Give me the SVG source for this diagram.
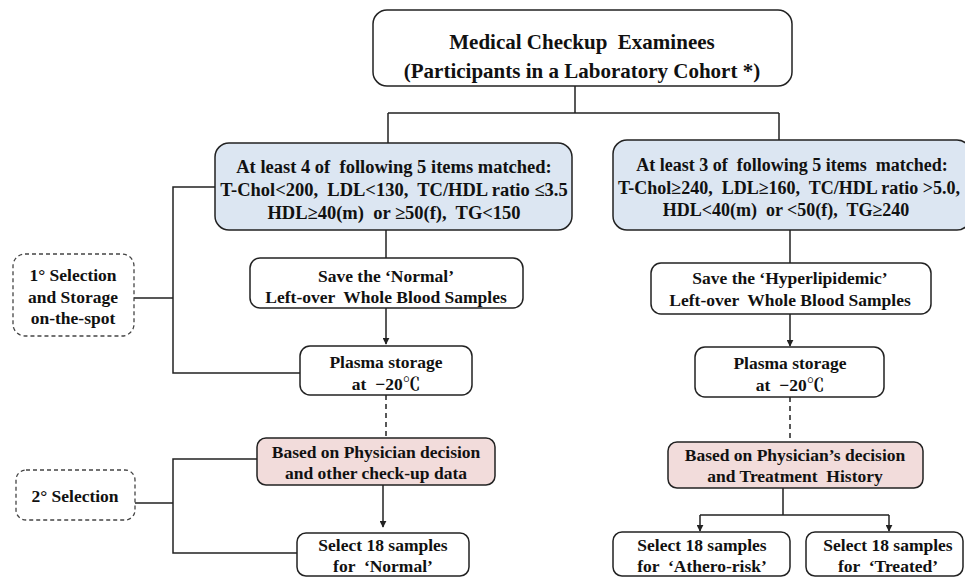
<svg xmlns="http://www.w3.org/2000/svg" width="965" height="578" viewBox="0 0 965 578">
<style>
  text { font-family: "Liberation Serif", "Noto Serif CJK SC", "Noto Sans CJK SC", serif; font-weight: bold; fill: #111; text-anchor: middle; white-space: pre; }
  .t1 { font-size: 21px; }
  .t2 { font-size: 18.5px; }
  .t2r { font-size: 18px; }
  .t3 { font-size: 17.5px; }
  .box { fill: #fff; stroke: #222; stroke-width: 1.5; }
  .blue { fill: #dce6f2; stroke: #222; stroke-width: 1.5; }
  .pink { fill: #f2dcdb; stroke: #222; stroke-width: 1.5; }
  .dash { fill: #fff; stroke: #444; stroke-width: 1.3; stroke-dasharray: 4 3; }
  .ln { fill: none; stroke: #222; stroke-width: 1.5; }
  .dl { fill: none; stroke: #222; stroke-width: 1.5; stroke-dasharray: 5 4; }
</style>
<defs>
  <marker id="ah" viewBox="0 0 10 10" refX="9" refY="5" markerWidth="7" markerHeight="7" markerUnits="userSpaceOnUse" orient="auto">
    <path d="M0,0 L10,5 L0,10 z" fill="#222"/>
  </marker>
</defs>

<g id="connectors">
  <path class="ln" d="M575,86 V113 M388,113 H779 M388,113 V143 M779,113 V140"/>
  <path class="ln" d="M386,230 V258"/>
  <path class="ln" d="M386,308 V344" marker-end="url(#ah)"/>
  <path class="dl" d="M386,395 V438"/>
  <path class="ln" d="M383,485 V527" marker-end="url(#ah)"/>
  <path class="ln" d="M215,187 H173 V373 H300 M134,298 H173"/>
  <path class="ln" d="M257,459 H173 V553 H297 M135,503 H173"/>
  <path class="ln" d="M790,230 V263"/>
  <path class="ln" d="M790,314 V346" marker-end="url(#ah)"/>
  <path class="dl" d="M790,397 V442"/>
  <path class="ln" d="M783,488 V515 M700,515 H889"/>
  <path class="ln" d="M700,515 V531" marker-end="url(#ah)"/>
  <path class="ln" d="M889,515 V531" marker-end="url(#ah)"/>
</g>

<g id="top">
  <rect class="box" x="373" y="10" width="419" height="76" rx="14"/>
  <text class="t1" x="582" y="49">Medical Checkup  Examinees</text>
  <text class="t1" x="582" y="78">(Participants in a Laboratory Cohort *)</text>
</g>

<g id="criteria-normal">
  <rect class="blue" x="215" y="143" width="357" height="87" rx="14"/>
  <text class="t2" x="394" y="173">At least 4 of  following 5 items matched:</text>
  <text class="t2" x="394" y="196">T-Chol&lt;200,  LDL&lt;130,  TC/HDL ratio ≤3.5</text>
  <text class="t2" x="394" y="219">HDL≥40(m)  or ≥50(f),  TG&lt;150</text>
</g>

<g id="criteria-hyper">
  <rect class="blue" x="613" y="140" width="358" height="90" rx="14"/>
  <text class="t2r" x="792" y="171">At least 3 of  following 5 items  matched:</text>
  <text class="t2r" x="789" y="194">T-Chol≥240,  LDL≥160,  TC/HDL ratio &gt;5.0,</text>
  <text class="t2r" x="786" y="216">HDL&lt;40(m)  or &lt;50(f),  TG≥240</text>
</g>

<g id="sel1">
  <rect class="dash" x="13" y="254" width="121" height="82" rx="12"/>
  <text class="t3" x="73" y="281">1° Selection</text>
  <text class="t3" x="73" y="303">and Storage</text>
  <text class="t3" x="73" y="324">on-the-spot</text>
</g>

<g id="save-normal">
  <rect class="box" x="250" y="258" width="273" height="50" rx="10"/>
  <text class="t3" x="386" y="282">Save the ‘Normal’</text>
  <text class="t3" x="386" y="303">Left-over  Whole Blood Samples</text>
</g>

<g id="save-hyper">
  <rect class="box" x="651" y="263" width="280" height="51" rx="10"/>
  <text class="t3" x="790" y="284">Save the ‘Hyperlipidemic’</text>
  <text class="t3" x="790" y="306">Left-over  Whole Blood Samples</text>
</g>

<g id="plasma-normal">
  <rect class="box" x="300" y="346" width="172" height="49" rx="10"/>
  <text class="t3" x="386" y="368">Plasma storage</text>
  <text class="t3" x="386" y="390">at  −20℃</text>
</g>

<g id="plasma-hyper">
  <rect class="box" x="695" y="347" width="189" height="50" rx="10"/>
  <text class="t3" x="790" y="369">Plasma storage</text>
  <text class="t3" x="790" y="391">at  −20℃</text>
</g>

<g id="sel2">
  <rect class="dash" x="16" y="470" width="119" height="50" rx="10"/>
  <text class="t3" x="75" y="502">2° Selection</text>
</g>

<g id="physician-normal">
  <rect class="pink" x="257" y="438" width="238" height="47" rx="9"/>
  <text class="t3" x="376" y="458">Based on Physician decision</text>
  <text class="t3" x="376" y="479">and other check-up data</text>
</g>

<g id="physician-hyper">
  <rect class="pink" x="668" y="442" width="255" height="46" rx="9"/>
  <text class="t3" x="795" y="461">Based on Physician’s decision</text>
  <text class="t3" x="795" y="482">and Treatment  History</text>
</g>

<g id="select-normal">
  <rect class="box" x="297" y="533" width="172" height="43" rx="9"/>
  <text class="t3" x="383" y="551">Select 18 samples</text>
  <text class="t3" x="383" y="572">for  ‘Normal’</text>
</g>

<g id="select-athero">
  <rect class="box" x="613" y="532" width="177" height="44" rx="9"/>
  <text class="t3" x="702" y="551">Select 18 samples</text>
  <text class="t3" x="702" y="572">for  ‘Athero-risk’</text>
</g>

<g id="select-treated">
  <rect class="box" x="806" y="532" width="157" height="44" rx="9"/>
  <text class="t3" x="888" y="551">Select 18 samples</text>
  <text class="t3" x="888" y="572">for  ‘Treated’</text>
</g>
</svg>
